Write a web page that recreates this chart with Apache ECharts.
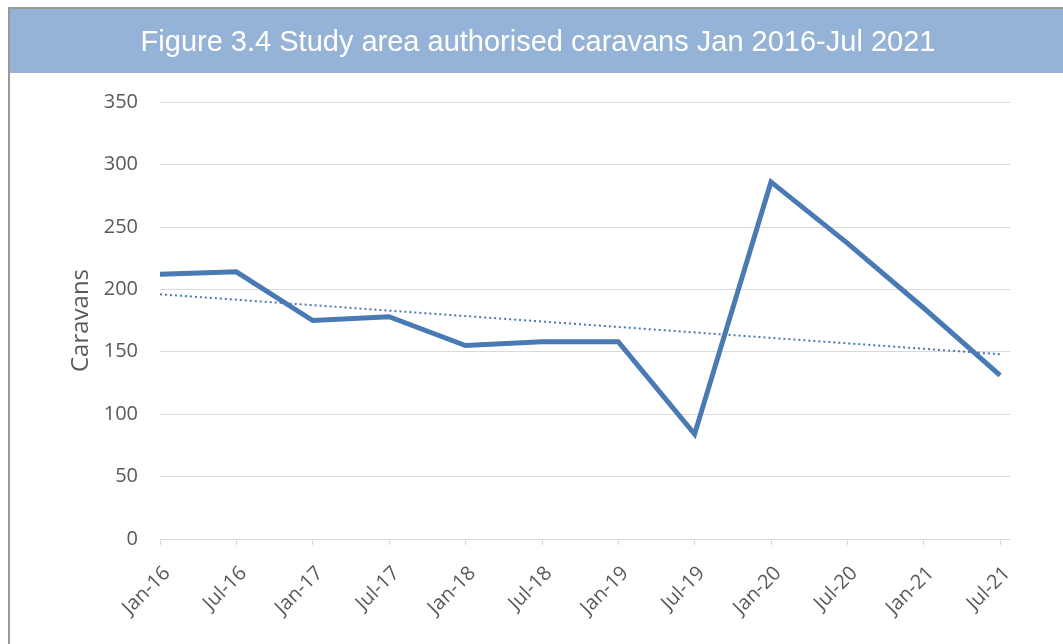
<!DOCTYPE html>
<html>
<head>
<meta charset="utf-8">
<script src="https://cdn.jsdelivr.net/npm/echarts@6/dist/echarts.min.js"></script>
<style>
  html, body { margin: 0; padding: 0; background: #ffffff; }
  #chart { width: 1063px; height: 644px; }
</style>
</head>
<body>
<div id="chart"></div>
<script>
const titleText = 'Figure 3.4 Study area authorised caravans Jan 2016-Jul 2021';
const categories = ['Jan-16', 'Jul-16', 'Jan-17', 'Jul-17', 'Jan-18', 'Jul-18', 'Jan-19', 'Jul-19', 'Jan-20', 'Jul-20', 'Jan-21', 'Jul-21'];
const caravans = [212, 214, 175, 178, 155, 158, 158, 84, 286, 237, 185, 131];
const trend = [196, null, null, null, null, null, null, null, null, null, null, 148];
const yAxisName = 'Caravans';

const positions = categories.map((c, i) => i);
const mainData = caravans.map((v, i) => [i, v]);
const trendData = trend.map((v, i) => [i, v]).filter(p => p[1] !== null);

const chart = echarts.init(document.getElementById('chart'), null, { renderer: 'canvas' });
const blue = '#4A7AB4';
const grey = '#595959';

chart.setOption({
  backgroundColor: '#ffffff',
  animation: false,
  graphic: [
    { type: 'rect', shape: { x: 8, y: 7, width: 1055, height: 2 }, style: { fill: '#999999' } },
    { type: 'rect', shape: { x: 8, y: 7, width: 2, height: 637 }, style: { fill: '#999999' } },
    { type: 'rect', shape: { x: 10, y: 9, width: 1053, height: 64 }, style: { fill: '#95B3D7' } },
    { type: 'text', x: 538, y: 43, style: { text: titleText, fill: '#ffffff', font: '29px "Liberation Sans", Arial, sans-serif', textAlign: 'center', textVerticalAlign: 'middle' } }
  ],
  grid: { left: 160, right: 53, top: 102, bottom: 105, containLabel: false },
  xAxis: {
    type: 'value',
    min: 0, max: 11.13, interval: 1,
    axisLine: { show: true, lineStyle: { color: '#d9d9d9', width: 1 } },
    axisTick: { show: true, length: 6, customValues: positions, lineStyle: { color: '#d9d9d9' } },
    axisLabel: {
      customValues: positions,
      formatter: v => categories[Math.round(v)] || '',
      rotate: 45, margin: 24, verticalAlign: 'top', color: grey, fontSize: 20, fontFamily: '"Open Sans", sans-serif'
    },
    splitLine: { show: false }
  },
  yAxis: {
    type: 'value',
    min: 0, max: 350, interval: 50,
    name: yAxisName,
    nameLocation: 'middle',
    nameGap: 67,
    nameRotate: 90,
    nameTextStyle: { color: grey, fontSize: 24, fontFamily: '"Open Sans", sans-serif' },
    axisLine: { show: false },
    axisTick: { show: false },
    axisLabel: { color: grey, fontSize: 20, margin: 22, fontFamily: '"Open Sans", sans-serif' },
    splitLine: { lineStyle: { color: '#d9d9d9', width: 1 } }
  },
  series: [
    {
      type: 'line', data: mainData, symbol: 'none',
      lineStyle: { color: blue, width: 5, join: 'miter' },
      z: 3
    },
    {
      type: 'line', data: trendData, symbol: 'none',
      lineStyle: { color: blue, width: 2, type: [2, 3] },
      z: 2
    }
  ]
});
</script>
</body>
</html>
